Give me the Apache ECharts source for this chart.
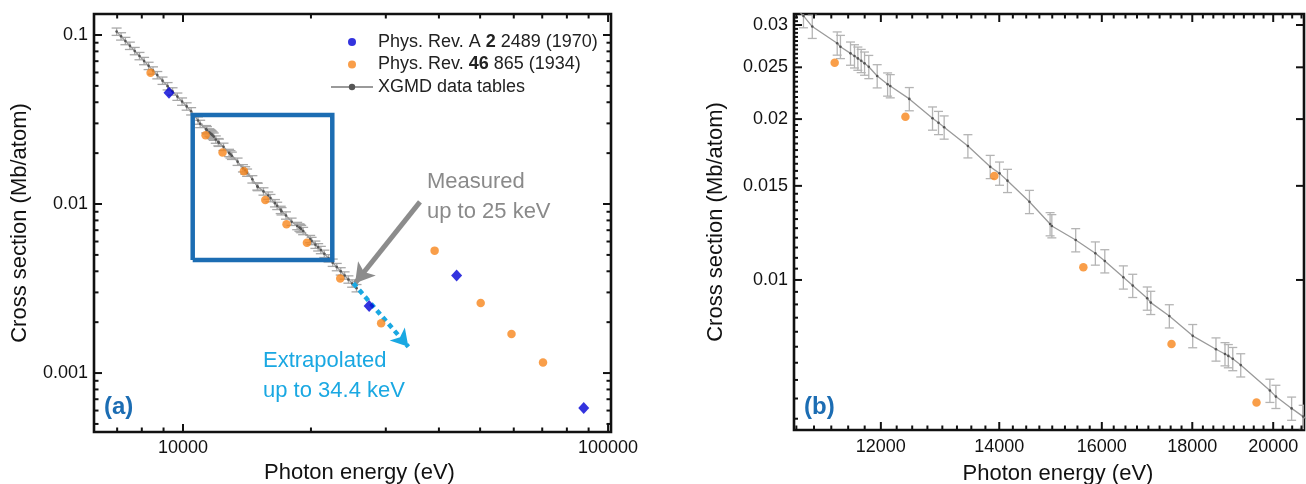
<!DOCTYPE html>
<html><head><meta charset="utf-8">
<script src="https://cdn.jsdelivr.net/npm/echarts@6/dist/echarts.min.js"></script>
<style>html,body{margin:0;padding:0;background:#fff}#c{width:1306px;height:484px}</style>
</head><body><div id="c"></div><script>
const FONT = '"Liberation Sans", Arial, Helvetica, sans-serif';

// ---------------- data ----------------
const xgmdEnergy = [6980, 7150, 7320, 7500, 7700, 7900, 8100, 8300, 8500, 8700, 8950, 9200, 9450, 9700, 9950, 10200, 10450,
  10850, 10975, 11337, 11385, 11535, 11595, 11646, 11697, 11748, 11813, 11943, 12106, 12148, 12453, 12835, 12935, 13031,
  13440, 13836, 14005, 14151, 14561, 14958, 14992, 15465, 15866, 16062, 16455, 16657, 16975, 17053, 17470, 18010, 18564,
  18783, 18865, 18974, 19172, 19914, 20070, 20485, 20796, 21100, 21500, 22000, 22500, 23000, 23500, 24000, 24500, 25000, 25600];
const xgmdSigma = [0.1047, 0.0982, 0.0922, 0.0864, 0.0804, 0.0751, 0.0702, 0.0657, 0.0617, 0.0579, 0.0537, 0.0498, 0.0464, 0.0432, 0.0404, 0.0378, 0.0354,
  0.0312, 0.0298, 0.02773, 0.02732, 0.02655, 0.02624, 0.02598, 0.02572, 0.02543, 0.02506, 0.02408, 0.02324, 0.02307, 0.02182, 0.02007, 0.01969, 0.01931,
  0.01781, 0.01629, 0.01583, 0.01534, 0.01401, 0.01273, 0.01262, 0.01188, 0.01122, 0.01085, 0.01012, 0.00976, 0.00924, 0.00907, 0.00856, 0.00786, 0.00742,
  0.00727, 0.00721, 0.00712, 0.00693, 0.00621, 0.00605, 0.00575, 0.00555, 0.00535, 0.00508, 0.00478, 0.0045, 0.00424, 0.004, 0.00378, 0.00358, 0.00339, 0.00318];
const xgmdRelError = 0.05;

const pr1934Energy = [8390, 11300, 12390, 13910, 15620, 17520, 19570, 23440, 29250, 39080, 50160, 59270, 70300];
const pr1934Sigma  = [0.0598, 0.0255, 0.0202, 0.01565, 0.01056, 0.00759, 0.0059, 0.00363, 0.00197, 0.0053, 0.0026, 0.0017, 0.001156];

const pr1970Energy = [9270, 27410, 44030, 87650];
const pr1970Sigma  = [0.0456, 0.00249, 0.00378, 0.000621];

const zoomBoxEnergy = [10540, 22450];
const zoomBoxSigma  = [0.00466, 0.0336];

const measuredArrowEnergy = [36100, 25400];
const measuredArrowSigma  = [0.0103, 0.0034];
const extrapArrowEnergy = [25160, 33900];
const extrapArrowSigma  = [0.0034, 0.00143];

// axes
const aXRange = [6175, 101600], aYRange = [0.000448, 0.1331];
const bXRange = [10717, 20818], bYRange = [0.005239, 0.031455];
const aXTicks = [10000, 100000], aXTickLabels = ['10000', '100000'];
const aYTicks = [0.001, 0.01, 0.1], aYTickLabels = ['0.001', '0.01', '0.1'];
const bXTicks = [12000, 14000, 16000, 18000, 20000], bXTickLabels = ['12000', '14000', '16000', '18000', '20000'];
const bYTicks = [0.01, 0.015, 0.02, 0.025, 0.03], bYTickLabels = ['0.01', '0.015', '0.02', '0.025', '0.03'];

const nameA = 'Phys. Rev. A 2 2489 (1970)';
const nameB = 'Phys. Rev. 46 865 (1934)';
const nameX = 'XGMD data tables';

// ---------------- helpers ----------------
function decadeMinors(lo, hi) {
  const out = [];
  for (let d = Math.floor(Math.log10(lo)); d <= Math.ceil(Math.log10(hi)); d++) {
    for (let m = 2; m <= 9; m++) { const v = m * Math.pow(10, d); if (v >= lo && v <= hi) out.push(+v.toPrecision(6)); }
  }
  return out;
}
function stepMinors(lo, hi, step, majors) {
  const out = [];
  for (let k = Math.ceil(lo / step); k * step <= hi; k++) {
    const r = +(k * step).toPrecision(8);
    if (!majors.some(m => Math.abs(m - r) / m < 1e-6)) out.push(r);
  }
  return out;
}
function labelFor(v, vals, texts) {
  let best = 0, bd = Infinity;
  vals.forEach((t, i) => { const d = Math.abs(Math.log10(v) - Math.log10(t)); if (d < bd) { bd = d; best = i; } });
  return texts[best];
}
function axis(gridIndex, position, range, labelVals, labelTexts, margin, extra) {
  return Object.assign({
    type: 'log', logBase: 10, gridIndex, position, min: range[0], max: range[1],
    axisLine: { show: false, onZero: false },
    splitLine: { show: false },
    minorTick: { show: false },
    axisTick: { show: false },
    axisLabel: { show: true, customValues: labelVals, formatter: v => labelFor(v, labelVals, labelTexts),
      fontSize: 18, color: '#111', fontFamily: FONT, margin: margin }
  }, extra || {});
}

const aXMinor = decadeMinors(aXRange[0], aXRange[1]);
const aYMinor = decadeMinors(aYRange[0], aYRange[1]);
const bXMinor = stepMinors(bXRange[0], bXRange[1], 250, bXTicks);
const bYMinor = stepMinors(bYRange[0], bYRange[1], 0.0005, bYTicks);

const nameStyle = { fontSize: 22, color: '#111', fontFamily: FONT };
const xAxes = [
  axis(0, 'bottom', aXRange, aXTicks, aXTickLabels, 7,
    { name: 'Photon energy (eV)', nameLocation: 'middle', nameGap: 30, nameTextStyle: Object.assign({ padding: [0, 0, 0, 14] }, nameStyle) }),
  axis(1, 'bottom', bXRange, bXTicks, bXTickLabels, 8,
    { name: 'Photon energy (eV)', nameLocation: 'middle', nameGap: 33, nameTextStyle: Object.assign({ padding: [0, 0, 0, 18] }, nameStyle) })
];
const yAxes = [
  axis(0, 'left', aYRange, aYTicks, aYTickLabels, 6,
    { name: 'Cross section (Mb/atom)', nameLocation: 'middle', nameGap: 63, nameTextStyle: nameStyle }),
  axis(1, 'left', bYRange, bYTicks, bYTickLabels, 6,
    { name: 'Cross section (Mb/atom)', nameLocation: 'middle', nameGap: 67, nameTextStyle: nameStyle })
];

// tick marks drawn through the axes' own scales
const rows = (vals, len, mirror) => vals.map(v => [v, len, mirror]);
function tickSeries(gi, dir, data, anchor, width) {
  return {
    type: 'custom', name: 'ticks', xAxisIndex: gi, yAxisIndex: gi, silent: true, clip: false, z: 20,
    data: data, encode: dir === 'x' ? { x: 0, y: 1 } : { x: 1, y: 0 },
    renderItem(params, api) {
      const cs = params.coordSys, v = api.value(0), len = api.value(1), mir = api.value(2);
      const st = { stroke: '#111', lineWidth: width };
      const ch = [];
      if (dir === 'x') {
        const px = api.coord([v, anchor])[0];
        const yb = cs.y + cs.height, yt = cs.y;
        ch.push({ type: 'line', shape: { x1: px, y1: yb, x2: px, y2: yb - len }, style: st });
        if (mir) ch.push({ type: 'line', shape: { x1: px, y1: yt, x2: px, y2: yt + len }, style: st });
      } else {
        const py = api.coord([anchor, v])[1];
        const xl = cs.x, xr = cs.x + cs.width;
        ch.push({ type: 'line', shape: { x1: xl, y1: py, x2: xl + len, y2: py }, style: st });
        if (mir) ch.push({ type: 'line', shape: { x1: xr, y1: py, x2: xr - len, y2: py }, style: st });
      }
      return { type: 'group', children: ch };
    }
  };
}

const zip = (xs, ys) => xs.map((x, i) => [x, ys[i]]);
const errData = xgmdEnergy.map((e, i) => [e, xgmdSigma[i] * (1 - xgmdRelError), xgmdSigma[i] * (1 + xgmdRelError)]);

function errorSeries(gi, capHalf, color) {
  return {
    type: 'custom', name: 'xgmdErr', xAxisIndex: gi, yAxisIndex: gi, clip: true, silent: true, z: 2,
    data: errData, encode: { x: 0, y: [1, 2] },
    renderItem(params, api) {
      const lo = api.coord([api.value(0), api.value(1)]);
      const hi = api.coord([api.value(0), api.value(2)]);
      const st = { stroke: color, lineWidth: 1.3 };
      return { type: 'group', children: [
        { type: 'line', shape: { x1: lo[0], y1: lo[1], x2: hi[0], y2: hi[1] }, style: st },
        { type: 'line', shape: { x1: lo[0] - capHalf, y1: lo[1], x2: lo[0] + capHalf, y2: lo[1] }, style: st },
        { type: 'line', shape: { x1: hi[0] - capHalf, y1: hi[1], x2: hi[0] + capHalf, y2: hi[1] }, style: st }
      ] };
    }
  };
}
function lineSeries(gi) {
  return { type: 'line', name: nameX, xAxisIndex: gi, yAxisIndex: gi, z: 3, clip: true,
    data: zip(xgmdEnergy, xgmdSigma), symbol: 'circle', symbolSize: 2.6, showSymbol: true,
    itemStyle: { color: '#555' }, lineStyle: { color: '#9a9a9a', width: 1.3 } };
}
function orangeSeries(gi) {
  return { type: 'scatter', name: nameB, xAxisIndex: gi, yAxisIndex: gi, z: 5, clip: true,
    data: zip(pr1934Energy, pr1934Sigma), symbol: 'circle', symbolSize: 8.5, itemStyle: { color: '#f7861c' } };
}
function blueSeries(gi) {
  return { type: 'scatter', name: nameA, xAxisIndex: gi, yAxisIndex: gi, z: 5, clip: true,
    data: zip(pr1970Energy, pr1970Sigma), symbol: 'diamond', symbolSize: [11, 12], itemStyle: { color: '#0000d6' } };
}

const boxData = [
  [zoomBoxEnergy[0], zoomBoxSigma[0]], [zoomBoxEnergy[1], zoomBoxSigma[0]],
  [zoomBoxEnergy[1], zoomBoxSigma[1]], [zoomBoxEnergy[0], zoomBoxSigma[1]], [zoomBoxEnergy[0], zoomBoxSigma[0]]
];

const series = [
  errorSeries(0, 5, '#a8a8a8'),
  lineSeries(0),
  { type: 'line', name: 'zoomBox', xAxisIndex: 0, yAxisIndex: 0, z: 4, data: boxData, symbol: 'none', silent: true,
    lineStyle: { color: '#1c6db3', width: 4.5, join: 'miter' },
    markLine: { silent: true, animation: false, label: { show: false }, emphasis: { disabled: true },
      data: [
        [ { coord: [measuredArrowEnergy[0], measuredArrowSigma[0]], symbol: 'none',
            lineStyle: { color: '#8c8c8c', width: 5, type: 'solid' } },
          { coord: [measuredArrowEnergy[1], measuredArrowSigma[1]], symbol: 'arrow', symbolSize: [17, 19] } ],
        [ { coord: [extrapArrowEnergy[0], extrapArrowSigma[0]], symbol: 'none',
            lineStyle: { color: '#1aa8e2', width: 4.5, type: [5, 4] } },
          { coord: [extrapArrowEnergy[1], extrapArrowSigma[1]], symbol: 'arrow', symbolSize: [15, 17] } ]
      ] } },
  orangeSeries(0),
  blueSeries(0),
  errorSeries(1, 4.5, '#b4b4b4'),
  lineSeries(1),
  orangeSeries(1),
  blueSeries(1),
  tickSeries(0, 'x', rows(aXTicks, 8, 1).concat(rows(aXMinor, 4.5, 1)), aYRange[0], 2),
  tickSeries(0, 'y', rows(aYTicks, 8, 1).concat(rows(aYMinor, 4.5, 1)), aXRange[0], 2),
  tickSeries(1, 'x', rows(bXTicks, 8, 1).concat(rows(bXMinor, 4.5, 1)), bYRange[0], 2),
  tickSeries(1, 'y', rows(bYTicks, 8, 1).concat(rows(bYMinor, 4, 0)), bXRange[0], 2)
];

const legendRich = {};
legendRich[nameA] = '{n|Phys. Rev. A }{b|2}{n| 2489 (1970)}';
legendRich[nameB] = '{n|Phys. Rev. }{b|46}{n| 865 (1934)}';
legendRich[nameX] = '{n|XGMD data tables}';

const chart = echarts.init(document.getElementById('c'), null, { renderer: 'canvas' });
chart.setOption({
  animation: false,
  backgroundColor: '#fff',
  textStyle: { fontFamily: FONT },
  grid: [
    { left: 94, top: 14, width: 517, height: 418, show: true, borderColor: '#111', borderWidth: 2.6,
      backgroundColor: 'transparent', containLabel: false, outerBoundsMode: 'none' },
    { left: 794, top: 14, width: 510, height: 416, show: true, borderColor: '#111', borderWidth: 2.6,
      backgroundColor: 'transparent', containLabel: false, outerBoundsMode: 'none' }
  ],
  legend: {
    left: 330, top: 32, orient: 'vertical', padding: 0, itemWidth: 42, itemHeight: 8, itemGap: 2.5,
    selectedMode: false,
    data: [ { name: nameA, icon: 'circle' }, { name: nameB, icon: 'circle' }, { name: nameX } ],
    formatter: n => legendRich[n] || n,
    textStyle: { fontSize: 18, lineHeight: 20, color: '#222', fontFamily: FONT,
      rich: { n: { fontSize: 18, color: '#222', fontFamily: FONT }, b: { fontSize: 18, fontWeight: 'bold', color: '#222', fontFamily: FONT } } }
  },
  xAxis: xAxes,
  yAxis: yAxes,
  series: series,
  graphic: [
    { type: 'text', left: 427, top: 171, style: { text: 'Measured', fontSize: 22, fill: '#8a8a8a', fontFamily: FONT } },
    { type: 'text', left: 427, top: 201, style: { text: 'up to 25 keV', fontSize: 22, fill: '#8a8a8a', fontFamily: FONT } },
    { type: 'text', left: 263, top: 350, style: { text: 'Extrapolated', fontSize: 22, fill: '#1aa8e2', fontFamily: FONT } },
    { type: 'text', left: 263, top: 380, style: { text: 'up to 34.4 keV', fontSize: 22, fill: '#1aa8e2', fontFamily: FONT } },
    { type: 'text', left: 104, top: 395, style: { text: '(a)', fontSize: 24, fontWeight: 'bold', fill: '#1c6db3', fontFamily: FONT } },
    { type: 'text', left: 804, top: 395, style: { text: '(b)', fontSize: 24, fontWeight: 'bold', fill: '#1c6db3', fontFamily: FONT } }
  ]
});
</script></body></html>
